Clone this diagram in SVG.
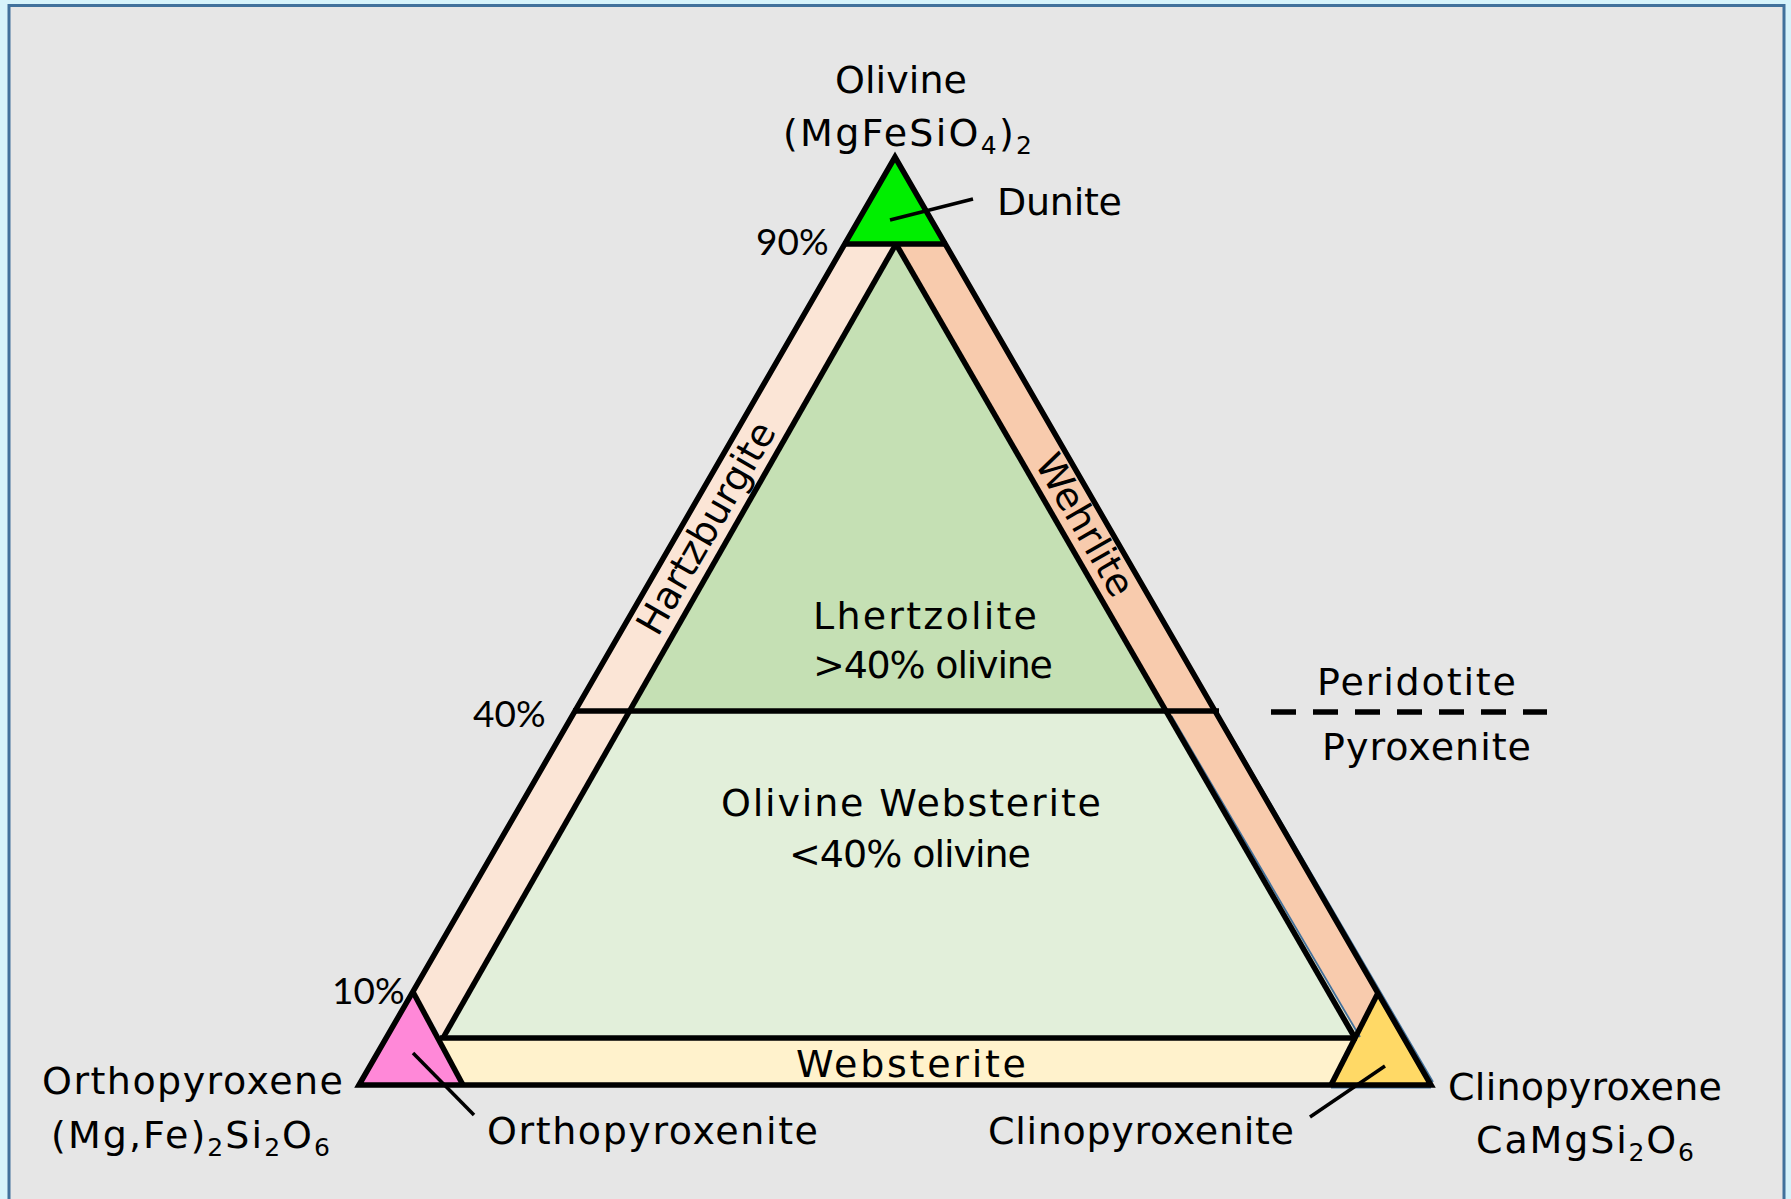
<svg xmlns="http://www.w3.org/2000/svg" width="1791" height="1199" viewBox="0 0 1791 1199">
<defs>
<style>
.t{font-family:"DejaVu Sans","Liberation Sans",sans-serif;font-size:38px;fill:#000}
.p{font-family:Lato,"Liberation Sans",sans-serif;font-size:37px;fill:#000}
.sub{font-size:25px}
.edge{stroke:#000;stroke-width:5.5;fill:none;stroke-linejoin:miter;stroke-linecap:butt}
.lead{stroke:#000;stroke-width:3.5;fill:none}
.blue{stroke:#41719c;stroke-width:1.8;fill:none}
</style>
</defs>
<rect x="0" y="0" width="1791" height="1199" fill="#d6f3fb"/>
<rect x="9" y="5.5" width="1775" height="1260" fill="#e6e6e6" stroke="#41719c" stroke-width="3"/>

<g id="fields">
<g id="hartzburgite"><polygon points="845,244 896,244 443,1038 413,992" fill="#fbe5d6"/></g>
<g id="wehrlite"><polygon points="896,244 945,244 1378,993 1355,1038" fill="#f8cbad"/></g>
<g id="lhertzolite"><polygon points="896,244 630,711 1166,711" fill="#c5e0b4"/></g>
<g id="olivine-websterite"><polygon points="630,711 1166,711 1355,1038 443,1038" fill="#e2efda"/></g>
<g id="websterite"><polygon points="438,1038 1355,1038 1331,1085 463,1085" fill="#fff2cc"/></g>
<g id="dunite"><polygon points="895,157 845,244 945,244" fill="#00ef00"/></g>
<g id="orthopyroxenite"><polygon points="359,1085 413,992 463,1085" fill="#ff88d8"/></g>
<g id="clinopyroxenite"><polygon points="1331,1085 1378,993 1431,1085" fill="#ffd966"/></g>
</g>

<g id="connectors">
<line x1="1168" y1="714" x2="1357" y2="1037" stroke="#e2efda" stroke-width="3"/>
<line class="blue" x1="1171.5" y1="716" x2="1360" y2="1037"/>
<line class="blue" x1="1224" y1="724" x2="1433" y2="1082"/>
<line class="blue" x1="1331" y1="1087.5" x2="1431" y2="1087.5"/>
<path class="edge" d="M359,1085 L895,157 L1431,1085 Z"/>
<line class="edge" x1="896" y1="244" x2="443" y2="1038"/>
<line class="edge" x1="896" y1="244" x2="1355" y2="1038"/>
<line class="edge" x1="843" y1="244" x2="947" y2="244"/>
<line class="edge" x1="573" y1="711" x2="1219" y2="711" stroke-width="5"/>
<line class="edge" x1="440" y1="1038" x2="1357" y2="1038"/>
<line class="edge" x1="413" y1="992" x2="463" y2="1085"/>
<line class="edge" x1="1378" y1="993" x2="1331" y2="1085"/>
<line class="edge" x1="1271" y1="712" x2="1547" y2="712" stroke-dasharray="25,17"/>
<line class="lead" x1="890" y1="220" x2="973" y2="199"/>
<line class="lead" x1="413" y1="1053" x2="474" y2="1115"/>
<line class="lead" x1="1385" y1="1066" x2="1310" y2="1117"/>
</g>

<g id="labels">
<text class="t" x="835" y="93" textLength="132">Olivine</text>
<text class="t" x="783" y="146" textLength="249">(MgFeSiO<tspan class="sub" dy="8">4</tspan><tspan dy="-8">)</tspan><tspan class="sub" dy="8">2</tspan></text>
<text class="t" x="997" y="215" textLength="125">Dunite</text>
<text class="p" x="756" y="255">90%</text>
<text class="t" transform="translate(706,528) rotate(-60)" x="0" y="13" text-anchor="middle">Hartzburgite</text>
<text class="t" transform="translate(1085,525) rotate(60)" x="0" y="13" text-anchor="middle">Wehrlite</text>
<text class="t" x="813" y="629" textLength="224">Lhertzolite</text>
<text class="t" x="813" y="678" textLength="240">&gt;40% olivine</text>
<text class="p" x="473" y="727">40%</text>
<text class="t" x="1317" y="695" textLength="199">Peridotite</text>
<text class="t" x="1322" y="760" textLength="209">Pyroxenite</text>
<text class="t" x="721" y="816" textLength="380">Olivine Websterite</text>
<text class="t" x="789" y="867" textLength="242">&lt;40% olivine</text>
<text class="p" x="332" y="1004">10%</text>
<text class="t" x="796" y="1077" textLength="230">Websterite</text>
<text class="t" x="42" y="1094" textLength="301">Orthopyroxene</text>
<text class="t" x="51" y="1148" textLength="279">(Mg,Fe)<tspan class="sub" dy="8">2</tspan><tspan dy="-8">Si</tspan><tspan class="sub" dy="8">2</tspan><tspan dy="-8">O</tspan><tspan class="sub" dy="8">6</tspan></text>
<text class="t" x="487" y="1144" textLength="331">Orthopyroxenite</text>
<text class="t" x="988" y="1144" textLength="306">Clinopyroxenite</text>
<text class="t" x="1448" y="1100" textLength="274">Clinopyroxene</text>
<text class="t" x="1476" y="1153" textLength="218">CaMgSi<tspan class="sub" dy="8">2</tspan><tspan dy="-8">O</tspan><tspan class="sub" dy="8">6</tspan></text>
</g>
</svg>
